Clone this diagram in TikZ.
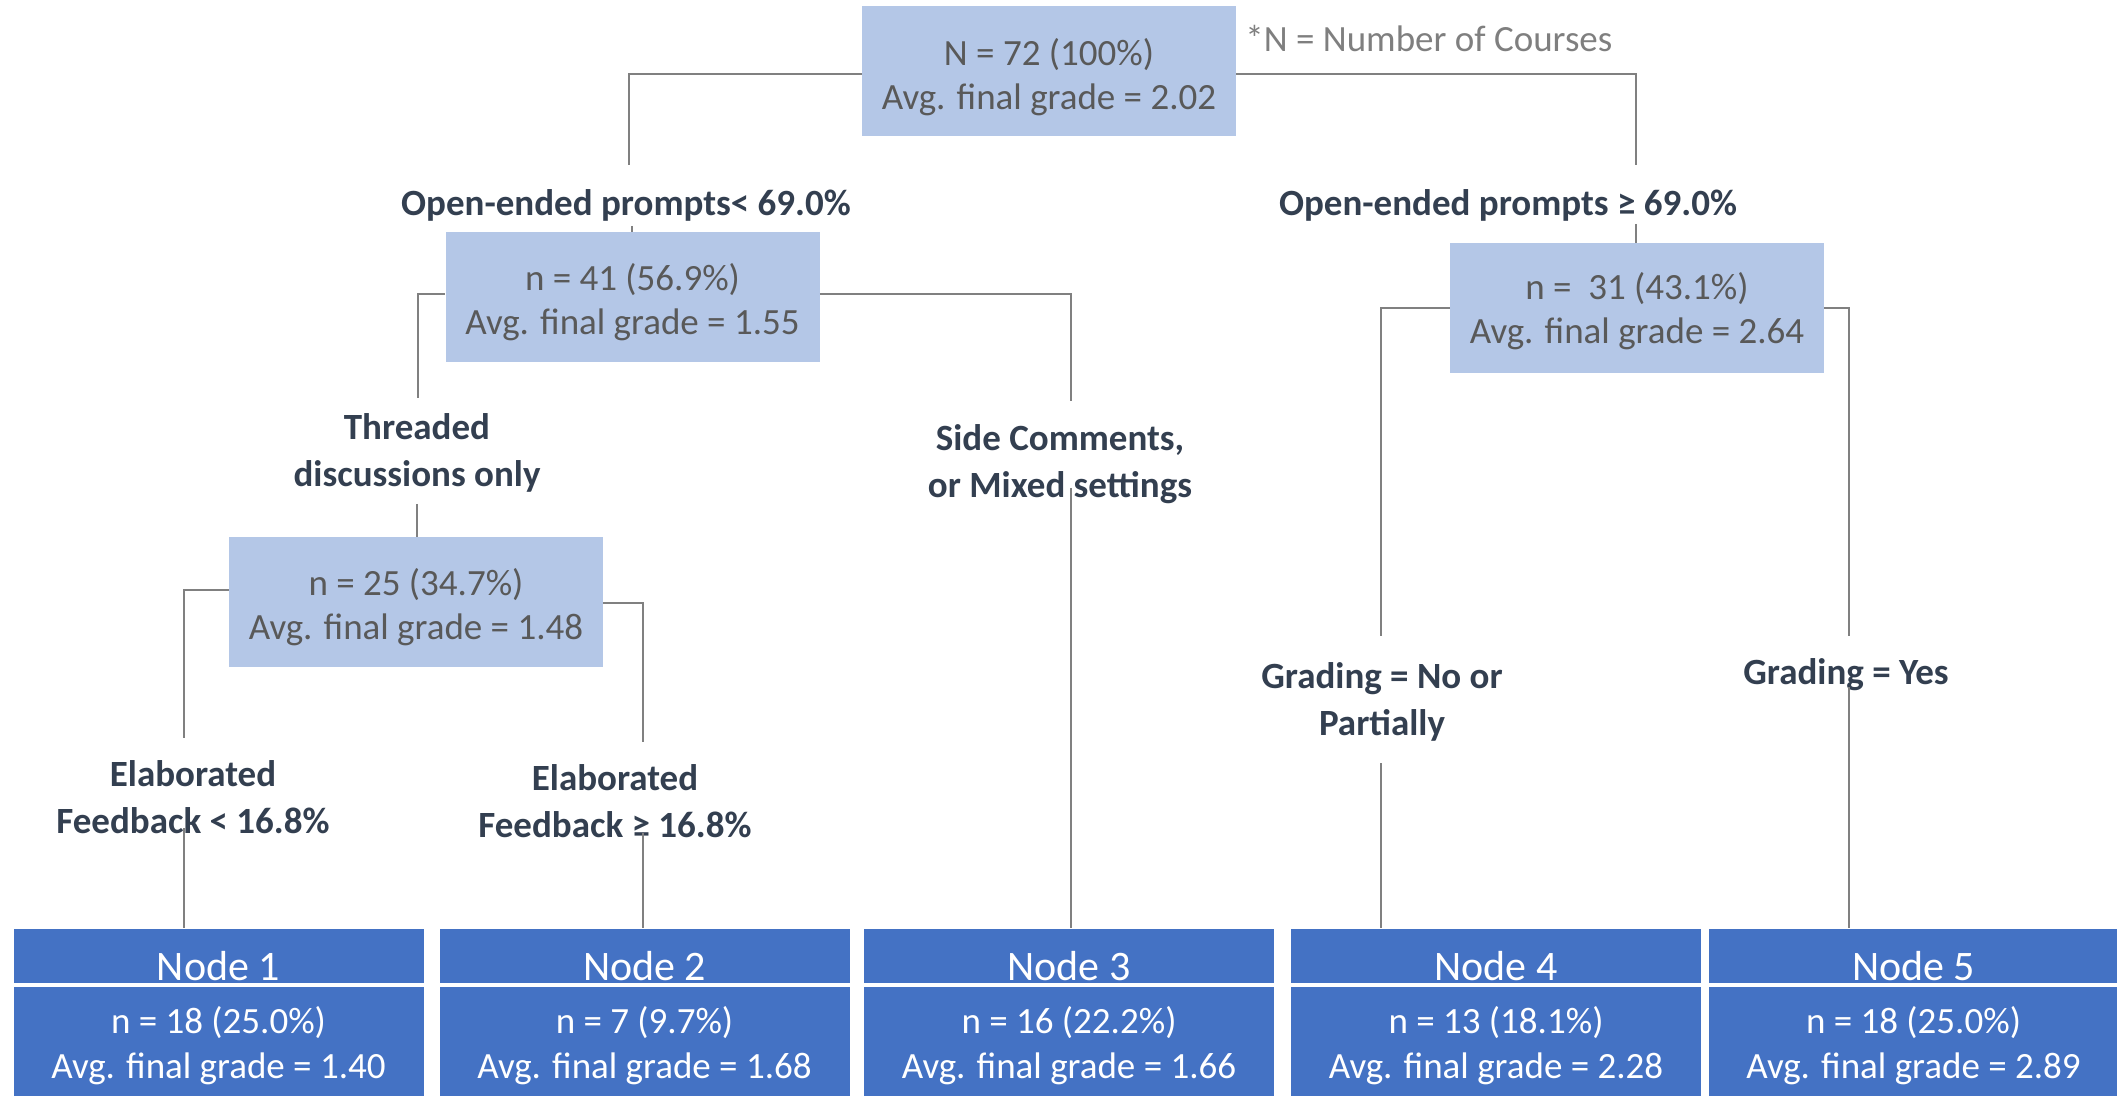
\documentclass[tikz,border=0pt]{standalone}
\usepackage{fontspec}
\setmainfont{Carlito}
\definecolor{boxlight}{HTML}{B4C7E7}
\definecolor{leafblue}{HTML}{4472C4}
\definecolor{textgray}{HTML}{595959}
\definecolor{notegray}{HTML}{7F7F7F}
\definecolor{linegray}{HTML}{808080}
\definecolor{navy}{HTML}{333F50}
\begin{document}
\begin{tikzpicture}[x=0.5pt,y=-0.5pt,
  conn/.style={draw=linegray, line width=1.2pt},
  splitbox/.style={rectangle, fill=boxlight, draw=none, inner sep=0pt,
    minimum width=187pt, minimum height=65pt},
  splittext/.style={text=textgray, align=center, inner sep=0pt,
    font=\fontsize{18.5}{22}\selectfont},
  cond/.style={text=navy, align=center, inner sep=0pt,
    font=\bfseries\fontsize{18.5}{23.5}\selectfont},
  leafhead/.style={rectangle, fill=leafblue, draw=none, inner xsep=0pt,
    inner ysep=1pt, text height=25pt, text depth=0pt, minimum width=205pt,
    text=white, font=\fontsize{21}{25}\selectfont},
  leafbody/.style={rectangle, fill=leafblue, draw=none, inner sep=0pt,
    minimum width=205pt, minimum height=54.5pt},
  leaftext/.style={text=white, align=center, inner sep=0pt,
    font=\fontsize{18.5}{22.5}\selectfont},
  note/.style={text=notegray, inner sep=0pt, font=\fontsize{18.5}{22}\selectfont}
]
\useasboundingbox (0,0) rectangle (2117,1096);

% split boxes and their statistics
\node[splitbox] (root) at (1049,71.5) {};
\node[splittext] (rootT) at ([yshift=-2.8pt]root.center) {N = 72 (100\%)\\Avg. final grade = 2.02};
\node[note, anchor=base west] (legend) at (1245,52) {*N = Number of Courses};
\node[splitbox] (n41) at (632.5,297) {};
\node[splittext] (n41T) at ([yshift=-2.6pt]n41.center) {n = 41 (56.9\%)\\Avg. final grade = 1.55};
\node[splitbox] (n31) at (1637,308) {};
\node[splittext] (n31T) at ([yshift=-1.8pt]n31.center) {n =~ 31 (43.1\%)\\Avg. final grade = 2.64};
\node[splitbox] (n25) at (416,602.5) {};
\node[splittext] (n25T) at ([yshift=-2.4pt]n25.center) {n = 25 (34.7\%)\\Avg. final grade = 1.48};

% split conditions
\node[cond] (cOpenLo) at (626,205) {Open-ended prompts< 69.0\%};
\node[cond] (cOpenHi) at (1508,205) {Open-ended prompts ≥ 69.0\%};
\node[cond] (cThread) at (417,453) {Threaded\\discussions only};
\node[cond] (cSide) at (1060,464) {Side Comments,\\or Mixed settings};
\node[cond] (cElabLo) at (193,797) {Elaborated\\Feedback < 16.8\%};
\node[cond] (cElabHi) at (615,801) {Elaborated\\Feedback ≥ 16.8\%};
\node[cond] (cGradeNo) at (1382,702) {Grading = No or\\Partially};
\node[cond] (cGradeYes) at (1846,675) {Grading = Yes};

% terminal nodes
\foreach \i/\xc/\n/\p/\g in {1/218.5/18/25.0/1.40, 2/644.5/7/9.7/1.68,
    3/1069/16/22.2/1.66, 4/1496/13/18.1/2.28, 5/1913.5/18/25.0/2.89}{
  \node[leafhead, anchor=south] (head\i) at (\xc,983) {Node \i};
  \node[leafbody, anchor=north] (body\i) at (\xc,987) {};
  \node[leaftext] (text\i) at ([yshift=-2pt]body\i.center)
    {n = \n\ (\p\%)\\Avg. final grade = \g};
}

% branch end points
\coordinate (jA) at (629,165);
\coordinate (jB) at (1636,165);
\coordinate (tA) at (632,226);
\coordinate (tB) at (1636,224);
\coordinate (jC) at (418,398);
\coordinate (jD) at (1071,401);
\coordinate (tC) at (417,504);
\coordinate (tD) at (1071,488);
\coordinate (jE) at (184,738);
\coordinate (jF) at (643,742);
\coordinate (tE) at (184,828);
\coordinate (tF) at (643,833);
\coordinate (jG) at (1381,636);
\coordinate (jH) at (1849,636);
\coordinate (tG) at (1381,763);
\coordinate (tH) at (1849,687);

% connectors
\draw[conn] ([yshift=-1.2pt]root.west) -| (jA);
\draw[conn] ([yshift=-1.2pt]root.east) -| (jB);
\draw[conn] (tA) -- (tA |- n41.north);
\draw[conn] (tB) -- (tB |- n31.north);
\draw[conn] ([yshift=1.5pt]n41.west) -| (jC);
\draw[conn] ([yshift=1.5pt]n41.east) -| (jD);
\draw[conn] (tC) -- (tC |- n25.north);
\draw[conn] (tD) -- (tD |- head3.north);
\draw[conn] ([yshift=6.2pt]n25.west) -| (jE);
\draw[conn] ([yshift=-0.2pt]n25.east) -| (jF);
\draw[conn] (tE) -- (tE |- head1.north);
\draw[conn] (tF) -- (tF |- head2.north);
\draw[conn] (n31.west) -| (jG);
\draw[conn] (n31.east) -| (jH);
\draw[conn] (tG) -- (tG |- head4.north);
\draw[conn] (tH) -- (tH |- head5.north);
\end{tikzpicture}
\end{document}
